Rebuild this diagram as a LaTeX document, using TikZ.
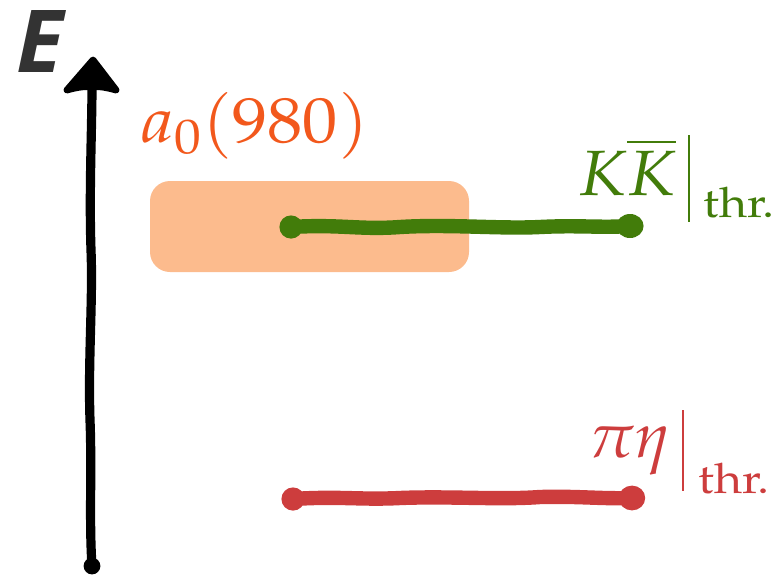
\documentclass[tikz,border=0pt]{standalone}
\usepackage{mathpazo}
\usepackage[no-math]{fontspec}
\newfontfamily\axisfont{Open Sans}
\usetikzlibrary{arrows.meta}

\definecolor{axisblack}{HTML}{000000}
\definecolor{egray}{HTML}{333333}
\definecolor{resorange}{HTML}{F2581C}
\definecolor{bandorange}{HTML}{FCBB8D}
\definecolor{kkgreen}{HTML}{427C0A}
\definecolor{pietared}{HTML}{CD3D3D}

\tikzset{
  txt/.style={anchor=base west, inner sep=0pt},
  biglabel/.style={txt, font=\fontsize{32}{38}\selectfont},
  thrlabel/.style={txt, font=\fontsize{21}{24}\selectfont},
  levelline/.style={line width=7.2pt, line cap=round, line join=round},
  barline/.style={line width=1.3pt},
}

\begin{document}
\begin{tikzpicture}[x=0.5pt, y=-0.5pt]
\useasboundingbox (0,0) rectangle (781,578);

% energy axis: wobbly shaft, hand-made head, round tail
\coordinate (ebot) at (92,566);
\coordinate (emid1) at (90,420);
\coordinate (emid2) at (91,250);
\coordinate (etop) at (92,84);
\coordinate (etip) at (93,60);
\draw[axisblack, line width=4.6pt, line cap=round]
  (ebot) .. controls (89,520) and (92,470) .. (emid1)
         .. controls (88,360) and (93,300) .. (emid2)
         .. controls (89,190) and (92,130) .. (etop);
\filldraw[axisblack, line width=3.4pt, line join=round]
  (etip) -- (116,90)
         .. controls (105,87) and (98,86) .. (92,87)
         .. controls (85,86) and (78,87) .. (67,90)
         -- cycle;
\fill[axisblack] (ebot) circle (4.2pt);
\node[txt, text=egray] (elabel) at (16,72)
  {\resizebox{!}{31pt}{\axisfont\bfseries\itshape E}};

% a0(980) resonance band
\node[fill=bandorange, rounded corners=10pt, minimum width=159.5pt,
      minimum height=45.5pt, inner sep=0pt] (band) at (309.5,226.5) {};
\node[biglabel, text=resorange] (reslabel) at (140,142)
  {\scalebox{1.1}[1]{$a_0(980)$}};

% K Kbar threshold
\coordinate (kkL) at (291,227);
\coordinate (kkR) at (630,226);
\draw[kkgreen, levelline]
  (kkL) .. controls (340,224) and (360,230) .. (400,227)
        .. controls (450,224) and (500,229) .. (540,227)
        .. controls (580,225) and (600,228) .. (kkR);
\fill[kkgreen] (kkL) circle (5.8pt);
\fill[kkgreen] (kkR) ellipse (6.8pt and 6pt);
\node[biglabel, text=kkgreen] (kklabel) at (578,195)
  {\scalebox{1.08}[1]{$K\overline{K}$}};
\coordinate (kkbarT) at (689,135);
\coordinate (kkbarB) at (689,222);
\draw[kkgreen, barline] (kkbarT) -- (kkbarB);
\node[thrlabel, text=kkgreen] (kkthr) at (703,217)
  {\scalebox{1.15}[1]{$\mathrm{thr.}$}};

% pi eta threshold
\coordinate (peL) at (293,499);
\coordinate (peR) at (632,498);
\draw[pietared, levelline]
  (peL) .. controls (340,496) and (360,500) .. (400,498)
        .. controls (450,496) and (500,500) .. (540,497)
        .. controls (580,496) and (600,499) .. (peR);
\fill[pietared] (peL) circle (5.8pt);
\fill[pietared] (peR) ellipse (6.6pt and 6.2pt);
\node[biglabel, text=pietared] (pelabel) at (588,457) {$\pi\eta$};
\coordinate (pebarT) at (683,410);
\coordinate (pebarB) at (683,491);
\draw[pietared, barline] (pebarT) -- (pebarB);
\node[thrlabel, text=pietared] (pethr) at (698,493)
  {\scalebox{1.15}[1]{$\mathrm{thr.}$}};
\end{tikzpicture}
\end{document}
